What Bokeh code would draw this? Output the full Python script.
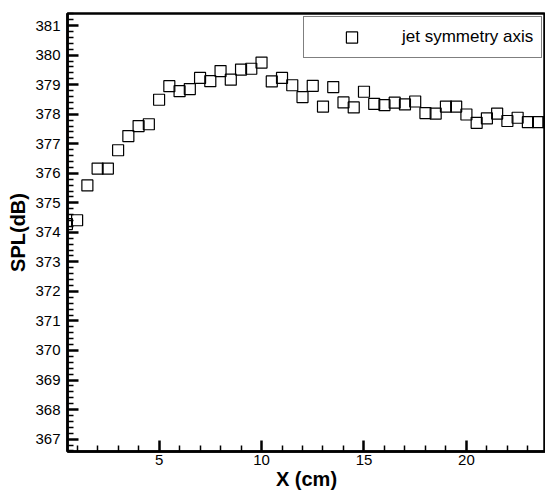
from bokeh.plotting import figure
from bokeh.models import FixedTicker, Range1d, Legend, LegendItem
from bokeh.embed import file_html
from bokeh.resources import INLINE

# Data
x_cm = [0.5, 1.0, 1.5, 2.0, 2.5, 3.0, 3.5, 4.0, 4.5, 5.0, 5.5, 6.0, 6.5, 7.0, 7.5, 8.0,
        8.5, 9.0, 9.5, 10.0, 10.5, 11.0, 11.5, 12.0, 12.5, 13.0, 13.5, 14.0, 14.5, 15.0,
        15.5, 16.0, 16.5, 17.0, 17.5, 18.0, 18.5, 19.0, 19.5, 20.0, 20.5, 21.0, 21.5,
        22.0, 22.5, 23.0, 23.5, 24.0]
spl_db = [374.28, 374.41, 375.59, 376.16, 376.16, 376.78, 377.26, 377.60, 377.66, 378.49,
          378.95, 378.78, 378.85, 379.23, 379.12, 379.46, 379.17, 379.51, 379.54, 379.75,
          379.11, 379.23, 378.98, 378.58, 378.96, 378.26, 378.92, 378.40, 378.23, 378.76,
          378.35, 378.31, 378.39, 378.33, 378.43, 378.04, 378.02, 378.26, 378.26, 377.99,
          377.71, 377.86, 378.02, 377.77, 377.88, 377.73, 377.73, 377.73]
series_label = "jet symmetry axis"
x_major = [5, 10, 15, 20]
x_minor = [1, 2, 3, 4, 6, 7, 8, 9, 11, 12, 13, 14, 16, 17, 18, 19, 21, 22, 23]
y_major = [367, 368, 369, 370, 371, 372, 373, 374, 375, 376, 377, 378, 379, 380, 381]

y_minor = []
for k in range(366 * 5 + 3, 381 * 5 + 3):
    v = round(k / 5.0, 1)
    if abs(v - round(v)) > 1e-6:
        y_minor.append(v)

FONT = "Liberation Sans"

p = figure(width=545, height=492, output_backend="svg", toolbar_location=None,
           x_range=Range1d(0.53, 23.86), y_range=Range1d(366.58, 381.41),
           min_border_left=67, min_border_right=0, min_border_top=13, min_border_bottom=40)
p.grid.visible = False
p.background_fill_color = "white"
p.border_fill_color = "white"
p.outline_line_color = "black"
p.outline_line_width = 2.5

r = p.scatter(x_cm, spl_db, marker="square", size=11, fill_color=None,
              line_color="black", line_width=1.2)

p.xaxis.ticker = FixedTicker(ticks=x_major, minor_ticks=x_minor)
p.yaxis.ticker = FixedTicker(ticks=y_major, minor_ticks=y_minor)

for ax in (p.xaxis[0], p.yaxis[0]):
    ax.axis_line_width = 2.5
    ax.axis_line_color = "black"
    ax.major_tick_in = 11
    ax.major_tick_out = 0
    ax.minor_tick_in = 6
    ax.minor_tick_out = 0
    ax.major_tick_line_width = 2.5
    ax.minor_tick_line_width = 1.5
    ax.major_label_text_font = FONT
    ax.major_label_text_font_size = "15px"
    ax.major_label_text_color = "black"
    ax.axis_label_text_font = FONT
    ax.axis_label_text_font_size = "20px"
    ax.axis_label_text_font_style = "bold"
    ax.axis_label_text_color = "black"

p.xaxis.axis_label = "X (cm)"
p.yaxis.axis_label = "SPL(dB)"
p.xaxis.major_label_standoff = 3
p.xaxis.axis_label_standoff = 0
p.yaxis.major_label_standoff = 7
p.yaxis.axis_label_standoff = 3

legend = Legend(items=[LegendItem(label=series_label, renderers=[r])],
                location="top_right", margin=3, padding=6,
                glyph_width=83, glyph_height=28, label_standoff=9,
                label_width=133, label_height=28, spacing=0,
                label_text_font=FONT, label_text_font_size="17px",
                label_text_color="black",
                border_line_color="black", border_line_width=1,
                background_fill_color="white", background_fill_alpha=1.0)
p.add_layout(legend)

open("out.html", "w").write(file_html(p, INLINE))
